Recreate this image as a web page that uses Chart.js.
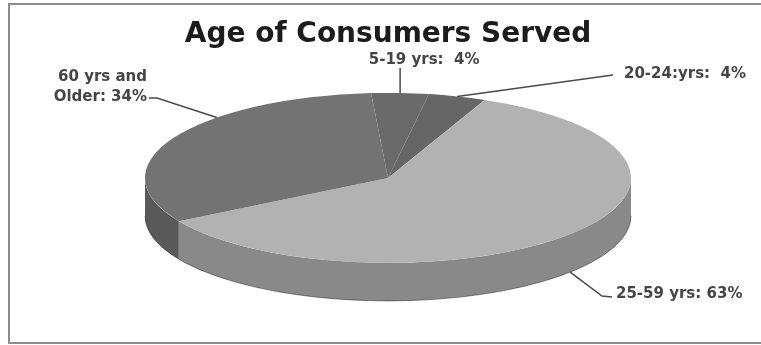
<!DOCTYPE html>
<html>
<head>
<meta charset="utf-8">
<script src="https://cdn.jsdelivr.net/npm/chart.js@4/dist/chart.umd.min.js"></script>
<style>
  html, body { margin: 0; padding: 0; background: #fff; }
  #wrap { width: 761px; height: 345px; position: relative; }
</style>
</head>
<body>
<div id="wrap"><canvas id="c" width="761" height="345"></canvas></div>
<script>
// ---- data ----
const categories = ['5-19 yrs', '20-24:yrs', '25-59 yrs', '60 yrs and Older'];
const values = [4, 4, 63, 34];
const topColors = ['#6a6a6a', '#666666', '#b2b2b2', '#737373'];
const sideColors = ['#4e4e4e', '#545454', '#898989', '#595959'];
const chartTitle = 'Age of Consumers Served';

// ---- geometry of the tilted pie ----
const RX = 243, RY = 85, DEPTH = 38;

function labelText(i) {
  const v = String(values[i]).padStart(2, ' ');
  if (i === 3) return ['60 yrs and', 'Older: ' + v + '%'];
  return [categories[i] + ': ' + v + '%'];
}

function geo(chart) {
  const el = chart.getDatasetMeta(0).data[0];
  const R = el.outerRadius;
  return { cx: el.x, cy: el.y, R, sx: RX / R, sy: RY / R };
}

const frame = {
  id: 'frame',
  beforeDraw(chart) {
    const ctx = chart.ctx;
    ctx.save();
    ctx.strokeStyle = '#8c8c8c';
    ctx.lineWidth = 2;
    ctx.beginPath();
    ctx.moveTo(761, 4); ctx.lineTo(9, 4); ctx.lineTo(9, 343); ctx.lineTo(761, 343);
    ctx.stroke();
    ctx.restore();
  }
};

const tilt = {
  id: 'tilt',
  beforeDatasetsDraw(chart) {
    const ctx = chart.ctx;
    const g = geo(chart);
    const meta = chart.getDatasetMeta(0);
    ctx.save();
    meta.data.forEach((el, i) => {
      for (let k = -1; k <= 1; k++) {
        const lo = Math.max(el.startAngle, k * 2 * Math.PI);
        const hi = Math.min(el.endAngle, k * 2 * Math.PI + Math.PI);
        if (hi > lo) {
          ctx.beginPath();
          ctx.ellipse(g.cx, g.cy, RX, RY, 0, lo, hi);
          ctx.ellipse(g.cx, g.cy + DEPTH, RX, RY, 0, hi, lo, true);
          ctx.closePath();
          ctx.fillStyle = sideColors[i];
          ctx.fill();
        }
      }
    });
    ctx.beginPath();
    ctx.ellipse(g.cx, g.cy + DEPTH, RX, RY, 0, 0, Math.PI);
    ctx.strokeStyle = 'rgba(60,60,60,0.6)';
    ctx.lineWidth = 1;
    ctx.stroke();
    ctx.restore();
    ctx.save();
    ctx.translate(g.cx, g.cy);
    ctx.scale(g.sx, g.sy);
    ctx.translate(-g.cx, -g.cy);
  },
  afterDatasetsDraw(chart) {
    chart.ctx.restore();
  }
};

const labels3d = {
  id: 'labels3d',
  afterDraw(chart) {
    const ctx = chart.ctx;
    const g = geo(chart);
    const meta = chart.getDatasetMeta(0);
    const pt = (a, d) => [g.cx + RX * Math.cos(a), g.cy + RY * Math.sin(a) + (d || 0)];
    ctx.save();
    ctx.strokeStyle = '#4a4a4a';
    ctx.lineWidth = 1.5;
    ctx.fillStyle = '#454545';
    ctx.font = 'bold 15px "DejaVu Sans", sans-serif';
    ctx.textBaseline = 'middle';
    meta.data.forEach((el, i) => {
      const mid = (el.startAngle + el.endAngle) / 2;
      const lines = labelText(i);
      let a, path, tx, ty, align;
      if (i === 0) {
        a = pt(mid);
        path = [a, [a[0], 68]];
        tx = a[0] + 24; ty = 60; align = 'center';
      } else if (i === 1) {
        a = pt(mid);
        path = [a, [613, 75]];
        tx = 624; ty = 74; align = 'left';
      } else if (i === 2) {
        a = pt(mid, DEPTH);
        path = [a, [602, 296], [612, 297]];
        tx = 616; ty = 294; align = 'left';
      } else {
        a = pt(el.startAngle + 0.65 * (el.endAngle - el.startAngle));
        path = [a, [157, 98], [149, 98]];
        tx = 147; ty = 77; align = 'right';
      }
      ctx.beginPath();
      ctx.moveTo(path[0][0], path[0][1]);
      for (let j = 1; j < path.length; j++) ctx.lineTo(path[j][0], path[j][1]);
      ctx.stroke();
      ctx.textAlign = align;
      lines.forEach((t, j) => ctx.fillText(t, tx, ty + j * 20));
    });
    ctx.restore();
  }
};

new Chart(document.getElementById('c'), {
  type: 'pie',
  data: {
    labels: categories,
    datasets: [{
      data: values,
      backgroundColor: topColors,
      borderWidth: 0
    }]
  },
  options: {
    responsive: false,
    animation: false,
    events: [],
    rotation: -4,
    layout: { padding: { left: 15, right: 0, top: 0, bottom: 42 } },
    plugins: {
      legend: { display: false },
      tooltip: { enabled: false },
      title: {
        display: true,
        text: chartTitle,
        color: '#1c1c1c',
        font: { family: '"DejaVu Sans", sans-serif', size: 28, weight: 'bold', lineHeight: 1.1 },
        padding: { top: 19, bottom: 3 }
      }
    }
  },
  plugins: [frame, tilt, labels3d]
});
</script>
</body>
</html>
